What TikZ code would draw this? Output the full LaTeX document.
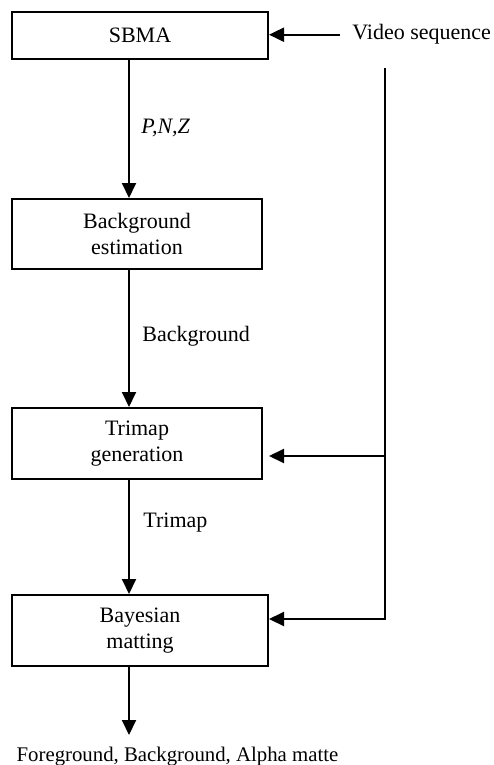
\documentclass[tikz,border=0pt]{standalone}
\usepackage{fontspec}
\setmainfont{Liberation Serif}
\usetikzlibrary{arrows.meta}

\tikzset{
  stage/.style={draw, line width=1pt, align=center, inner sep=0pt,
                font=\fontsize{11}{13}\selectfont},
  flow/.style={line width=1pt, line join=miter,
               -{Triangle[length=7.5pt, width=7pt]}},
  tag/.style={inner sep=0pt, font=\fontsize{11}{13}\selectfont}
}

\begin{document}
\begin{tikzpicture}[x=0.5pt, y=-0.5pt]
  \useasboundingbox (0, 0) rectangle (493, 765);

  % processing stages
  \node[stage, minimum width=128pt, minimum height=23.5pt] (sbma)   at (140, 35.5)  {SBMA};
  \node[stage, minimum width=125pt, minimum height=35pt]   (bgest)  at (137, 234)   {Background\\estimation};
  \node[stage, minimum width=125pt, minimum height=35.5pt] (trimap) at (137, 443.5) {Trimap\\generation};
  \node[stage, minimum width=128pt, minimum height=35.5pt] (bayes)  at (140, 630.5) {Bayesian\\matting};

  \node[tag, anchor=base west, inner xsep=6pt] (video) at (340, 40) {Video sequence};
  \node[tag, anchor=base, font=\fontsize{10.4}{12}\selectfont] (out) at (177.5, 761) {Foreground, Background, Alpha matte};

  \coordinate (col)    at (129, 0);
  \coordinate (outtip) at (129, 735);
  \coordinate (vtop)   at (385, 68);
  \coordinate (tap1)   at (385, 456);
  \coordinate (tap2)   at (385, 619);

  % main chain
  \draw[flow] (sbma.south -| col)   -- (bgest.north -| col);
  \draw[flow] (bgest.south -| col)  -- (trimap.north -| col);
  \draw[flow] (trimap.south -| col) -- (bayes.north -| col);
  \draw[flow] (bayes.south -| col)  -- (outtip);

  \node[tag, anchor=west] (lpnz)   at (141, 128) {\textit{P,N,Z}};
  \node[tag, anchor=west] (lback)  at (142, 336) {Background};
  \node[tag, anchor=west] (ltrim)  at (143, 523) {Trimap};

  % video input
  \draw[flow] (video.west) -- (video.west -| sbma.east);
  \draw[flow] (vtop) -- (tap2) -- (tap2 -| bayes.east);
  \draw[flow] (tap1) -- (tap1 -| bayes.east);

\end{tikzpicture}
\end{document}
